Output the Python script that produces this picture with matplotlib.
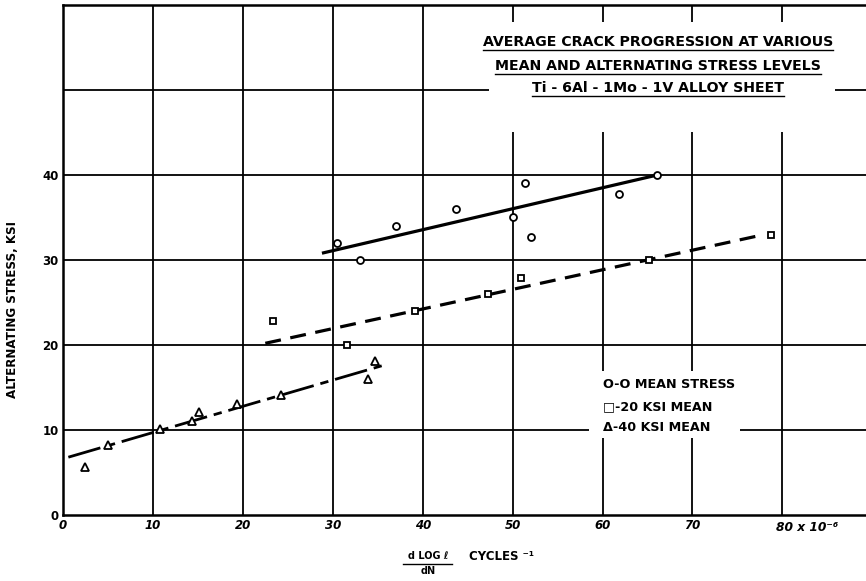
import matplotlib
matplotlib.use("Agg")
import matplotlib.pyplot as plt
from matplotlib.lines import Line2D
from matplotlib.patches import Rectangle

# 0-0 mean stress (circles)
x_zero = [30.5, 33.0, 37.0, 43.7, 50.0, 51.4, 52.1, 61.8, 66.1]
y_zero = [32.0, 30.0, 34.0, 36.0, 35.0, 39.0, 32.7, 37.8, 40.0]
fit_zero_x = [28.8, 66.1]
fit_zero_y = [30.8, 40.0]

# 20 ksi mean (squares)
x_20 = [23.4, 31.6, 39.1, 47.3, 50.9, 65.2, 78.7]
y_20 = [22.8, 20.0, 24.0, 26.0, 27.9, 30.0, 32.9]
fit_20_x = [22.5, 78.0]
fit_20_y = [20.2, 33.0]

# 40 ksi mean (triangles)
x_40 = [2.4, 5.0, 10.8, 14.3, 15.1, 19.3, 24.3, 33.9, 34.7]
y_40 = [5.7, 8.2, 10.1, 11.1, 12.1, 13.1, 14.1, 16.0, 18.1]
fit_40_x = [0.6, 35.6]
fit_40_y = [6.8, 17.6]

x_ticks = [0, 10, 20, 30, 40, 50, 60, 70]
y_ticks = [0, 10, 20, 30, 40]

title_lines = ["AVERAGE CRACK PROGRESSION AT VARIOUS",
               "MEAN AND ALTERNATING STRESS LEVELS",
               "Ti - 6Al - 1Mo - 1V ALLOY SHEET"]
legend_lines = ["O-O MEAN STRESS", "\u25A1-20 KSI MEAN", "\u0394-40 KSI MEAN"]

plt.rcParams['font.family'] = 'DejaVu Sans'
plt.rcParams['font.weight'] = 'bold'

fig = plt.figure(figsize=(8.66, 5.81), dpi=100)
ax = fig.add_axes([0.0727, 0.1136, 0.9273, 0.8778])
ax.set_xlim(0, 89.3)
ax.set_ylim(0, 60)

# grid
for gx in range(10, 90, 10):
    ax.axvline(gx, color='black', lw=1.3, zorder=1)
for gy in range(10, 60, 10):
    ax.axhline(gy, color='black', lw=1.3, zorder=1)

for side in ['left', 'bottom', 'top']:
    ax.spines[side].set_linewidth(1.8)
ax.spines['right'].set_visible(False)

# white boxes behind title and legend text
ax.add_patch(Rectangle((47.4, 45.1), 38.4, 12.9, facecolor='white', edgecolor='none', zorder=2))
ax.add_patch(Rectangle((58.5, 9.0), 16.8, 7.9, facecolor='white', edgecolor='none', zorder=2))

# fit lines
ax.plot(fit_zero_x, fit_zero_y, color='black', lw=2.3, solid_capstyle='butt', zorder=3)
ax.plot(fit_20_x, fit_20_y, color='black', lw=2.3, dashes=(5, 3), zorder=3)
ax.plot(fit_40_x, fit_40_y, color='black', lw=2.0, dashes=(12, 2.5, 3, 2.5), zorder=3)

# points
mk = dict(color='black', markerfacecolor='white', markeredgewidth=1.3, linestyle='none', zorder=4)
ax.plot(x_zero, y_zero, marker='o', markersize=5, **mk)
ax.plot(x_20, y_20, marker='s', markersize=4.5, **mk)
ax.plot(x_40, y_40, marker='^', markersize=5.5, **mk)

ax.set_xticks(x_ticks)
ax.set_xticklabels([str(v) for v in x_ticks], fontsize=8.5, fontweight='bold', fontstyle='oblique')
ax.set_yticks(y_ticks)
ax.set_yticklabels([str(v) for v in y_ticks], fontsize=8.5, fontweight='bold')
ax.tick_params(length=0, pad=3)
ax.text(79.3, -0.7, "80 x 10\u207B\u2076", fontsize=8.8, fontweight='bold', fontstyle='oblique',
        ha='left', va='top')

# title
title_y = [55.6, 52.8, 50.2]
title_t = []
for line, ty in zip(title_lines, title_y):
    title_t.append(ax.text(66.2, ty, line, fontsize=10.2, fontweight='bold', ha='center',
                           va='center', zorder=5))

# legend text
leg_y = [15.4, 12.7, 10.3]
for line, ly in zip(legend_lines, leg_y):
    ax.text(60.1, ly, line, fontsize=9.2, fontweight='bold', ha='left', va='center', zorder=5)

# axis labels
fig.text(13 / 866, 1 - 310 / 581, "ALTERNATING STRESS, KSI", rotation=90, fontsize=8.6,
         fontweight='bold', ha='center', va='center')
fig.text(428 / 866, 1 - 556 / 581, "d LOG \u2113", fontsize=7, fontweight='bold',
         ha='center', va='center')
fig.text(428 / 866, 1 - 571 / 581, "dN", fontsize=7, fontweight='bold', ha='center', va='center')
fig.add_artist(Line2D([403 / 866, 452 / 866], [1 - 563.5 / 581, 1 - 563.5 / 581],
                      color='black', lw=1.0))
fig.text(469 / 866, 1 - 557 / 581, "CYCLES \u207B\u00B9", fontsize=8.5, fontweight='bold',
         ha='left', va='center')

# underline the title lines
fig.canvas.draw()
r = fig.canvas.get_renderer()
W, H = fig.bbox.width, fig.bbox.height
for t in title_t:
    bb = t.get_window_extent(r)
    yl = (bb.y0 - 1.0) / H
    fig.add_artist(Line2D([bb.x0 / W, bb.x1 / W], [yl, yl], color='black', lw=1.0))

fig.savefig("out.png", dpi=100)
